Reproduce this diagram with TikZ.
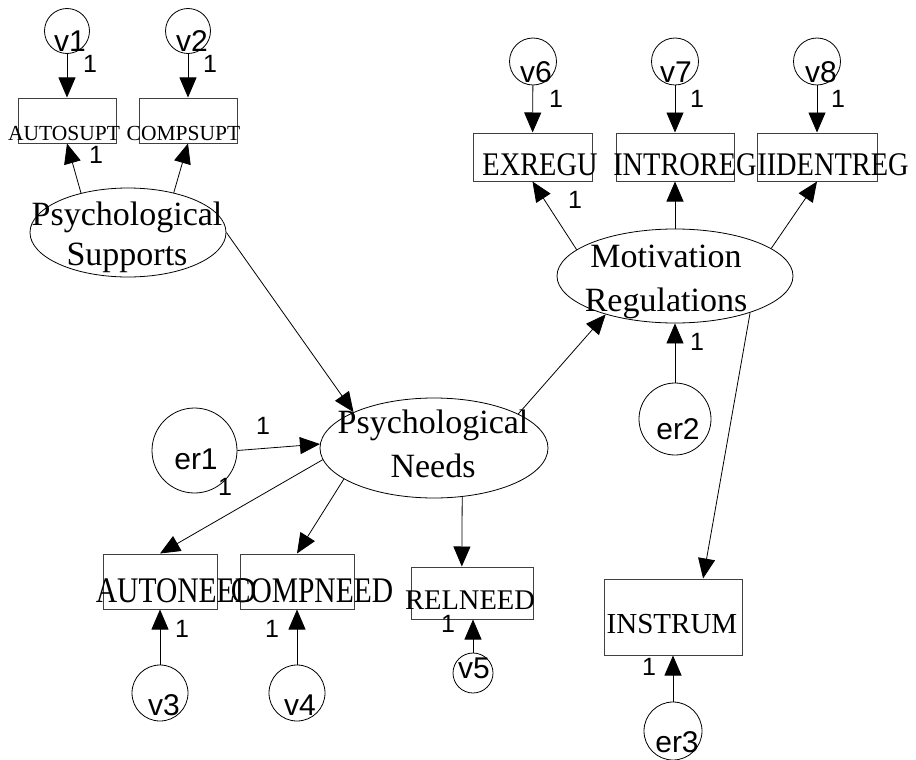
\documentclass[tikz,border=0pt]{standalone}
\usepackage{fontspec}
\setmainfont{Liberation Serif}
\setsansfont{Liberation Sans}
\newfontfamily\needserif[FakeStretch=0.82]{Liberation Serif}
\newfontfamily\regserif[FakeStretch=0.86]{Liberation Serif}
\usetikzlibrary{arrows.meta}
\usetikzlibrary{shapes.geometric}

\begin{document}
\begin{tikzpicture}[x=1pt, y=-1pt,
		lat/.style={draw, ellipse, inner sep=0pt, line width=0.8pt},
		obs/.style={draw = black!75, rectangle, inner sep=0pt, line width=1pt},
		err/.style={draw, circle, inner sep=0pt, line width=0.8pt},
		reg/.style={-{Triangle[length=20pt,width=17pt]}, line width=0.8pt},
		wt/.style={font=\fontsize{25}{25}\selectfont\sffamily, anchor=base},
		etxt/.style={font=\fontsize{30}{30}\selectfont\sffamily, anchor=base},
		otxt/.style={font=\fontsize{29}{29}\selectfont, anchor=base},
		ntxt/.style={font=\needserif\fontsize{36}{36}\selectfont, anchor=base},
		rtxt/.style={font=\regserif\fontsize{33}{33}\selectfont, anchor=base},
		ltxt/.style={font=\fontsize{34}{44}\selectfont, align=center}]
		\useasboundingbox (0,0) rectangle (916,760);
		
		\node[err, minimum size=45pt] (v1) at (67,31) {};
		\node[etxt] (v1t) at (70,52) {v1};
		\node[err, minimum size=45pt] (v2) at (188,31) {};
		\node[etxt] (v2t) at (192,52) {v2};
		\node[obs, minimum width=98pt, minimum height=45pt] (autosupt) at (67,120.5) {};
		\node[otxt, font=\fontsize{21.5}{21.5}\selectfont] (autosupt-t) at (64,140) {AUTOSUPT};
		\node[obs, minimum width=98pt, minimum height=45pt] (compsupt) at (188,120.5) {};
		\node[otxt, font=\fontsize{21.5}{21.5}\selectfont] (compsupt-t) at (183.5,140) {COMPSUPT};
		\node[lat, minimum width=196pt, minimum height=89pt] (psup) at (128,232.5) {};
		\node[ltxt, font=\fontsize{34}{40}\selectfont] (psup-t) at (127,237) {Psychological\\Supports};
		
		\node[lat, minimum width=228pt, minimum height=100pt] (psneed) at (434,448) {};
		\node[ltxt] (psneed-t) at (433,443.5) {Psychological\\Needs};
		\node[err, minimum size=85pt] (er1) at (194.5,450.5) {};
		\node[etxt] (er1t) at (196,469) {er1};
		
		\node[obs, minimum width=114pt, minimum height=55pt] (autoneed) at (160,581.5) {};
		\node[ntxt] (autoneed-t) at (176,602) {AUTONEED};
		\node[obs, minimum width=114pt, minimum height=55pt] (compneed) at (297,581.5) {};
		\node[ntxt] (compneed-t) at (312,602) {COMPNEED};
		\node[obs, minimum width=122pt, minimum height=52pt] (relneed) at (472,593) {};
		\node[otxt, font=\fontsize{28.5}{28.5}\selectfont] (relneed-t) at (470,609) {RELNEED};
		\node[err, minimum size=56pt] (v3) at (160,693) {};
		\node[etxt] (v3t) at (164,715) {v3};
		\node[err, minimum size=56pt] (v4) at (297,693) {};
		\node[etxt] (v4t) at (300,715) {v4};
		\node[err, minimum size=40pt] (v5) at (473,673) {};
		\node[etxt] (v5t) at (474,678) {v5};
		
		\node[lat, minimum width=236pt, minimum height=94pt] (motreg) at (675,276) {};
		\node[ltxt] (motreg-t) at (666,282) {Motivation\\Regulations};
		\node[obs, minimum width=119pt, minimum height=48pt] (exregu) at (532.5,157) {};
		\node[rtxt] (exregu-t) at (540,175) {EXREGU};
		\node[obs, minimum width=118pt, minimum height=48pt] (introreg) at (675,157) {};
		\node[rtxt] (introreg-t) at (685,175) {INTROREG};
		\node[obs, minimum width=120pt, minimum height=48pt] (identreg) at (817,157) {};
		\node[rtxt] (identreg-t) at (833,175) {IIDENTREG};
		\node[err, minimum size=47pt] (v6) at (533,61.5) {};
		\node[etxt] (v6t) at (536,82) {v6};
		\node[err, minimum size=47pt] (v7) at (675,61.5) {};
		\node[etxt] (v7t) at (676,82) {v7};
		\node[err, minimum size=47pt] (v8) at (817,61.5) {};
		\node[etxt] (v8t) at (821,82) {v8};
		\node[err, minimum size=72pt] (er2) at (675,419) {};
		\node[etxt] (er2t) at (678,439) {er2};
		
		\node[obs, minimum width=138pt, minimum height=76pt] (instrum) at (673,617) {};
		\node[otxt] (instrum-t) at (672,633) {INSTRUM};
		\node[err, minimum size=58pt] (er3) at (673,731) {};
		\node[etxt] (er3t) at (677,752) {er3};
		
		\draw[reg] (v1) -- (autosupt);
		\draw[reg] (v2) -- (compsupt);
		\draw[reg] (psup.140) -- (autosupt.south);
		\draw[reg] (psup.41) -- (compsupt.south);
		\draw[reg] (psup.east) -- (psneed.156);
		\draw[reg] (er1.east) -- (psneed.178);
		\draw[reg] (psneed.186) -- (autoneed.north);
		\draw[reg] (psneed.199) -- (compneed.north);
		\draw[reg] (psneed.300) -- (relneed.111);
		\draw[reg] (v3) -- (autoneed);
		\draw[reg] (v4) -- (compneed);
		\draw[reg] (v5.north) -- (v5.north |- relneed.south);
		\draw[reg] (psneed.22) -- (motreg.209);
		\draw[reg] (motreg.165) -- (exregu.south);
		\draw[reg] (motreg.north) -- (introreg.south);
		\draw[reg] (motreg.16) -- (identreg.south);
		\draw[reg] (v6) -- (exregu);
		\draw[reg] (v7) -- (introreg);
		\draw[reg] (v8) -- (identreg);
		\draw[reg] (er2) -- (motreg);
		\draw[reg] (motreg.334) -- (instrum.52);
		\draw[reg] (er3) -- (instrum);
		
		\node[wt] (w1) at (90,73) {1};
		\node[wt] (w2) at (210,73) {1};
		\node[wt] (w3) at (96,163) {1};
		\node[wt] (w4) at (263,434) {1};
		\node[wt] (w5) at (225,495) {1};
		\node[wt] (w6) at (182,637) {1};
		\node[wt] (w7) at (272,637) {1};
		\node[wt] (w8) at (448,632) {1};
		\node[wt] (w9) at (556,107) {1};
		\node[wt] (w10) at (697,107) {1};
		\node[wt] (w11) at (838,107) {1};
		\node[wt] (w12) at (575,208) {1};
		\node[wt] (w13) at (697,350) {1};
		\node[wt] (w14) at (649,675) {1};
	\end{tikzpicture}
\end{document}
